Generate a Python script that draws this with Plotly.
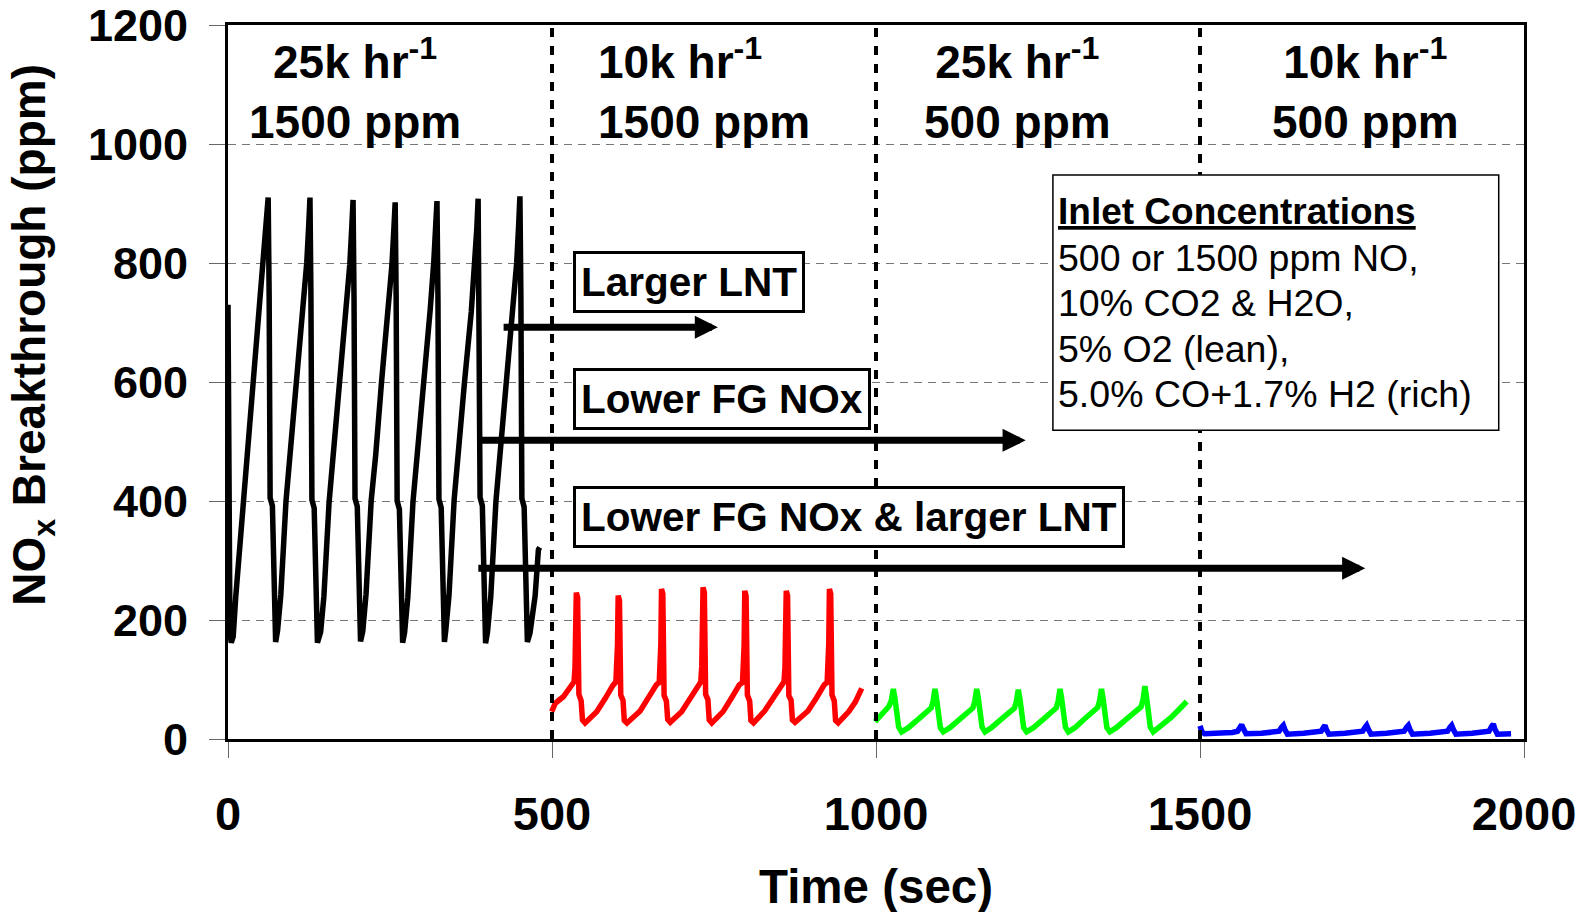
import plotly.graph_objects as go

# ---------------- data ----------------
# 25k hr-1, 1500 ppm (black)
black_t = [0, 1.5, 3, 5, 8, 12, 24, 31, 39, 49.5, 55, 59, 62,
           63.5, 65, 68.5, 71, 73.5, 76.5, 81.5, 89.5, 96.5, 105.5, 116, 121.5, 124.5, 126.5,
           128, 129.5, 133, 135.5, 138, 143, 148, 156, 163, 172, 182.5, 188, 191, 193,
           194.5, 196, 199.5, 202, 204.5, 208, 213, 221, 228, 237, 247.5, 253, 256, 258,
           259.5, 261, 264.5, 267, 269.5, 272.5, 277.5, 285.5, 292.5, 301.5, 312, 317.5, 320.5, 322.5,
           324, 325.5, 329, 331.5, 334, 336, 341, 349, 356, 365, 375.5, 381, 384, 386,
           387.5, 389, 392.5, 395, 397.5, 400.5, 405.5, 413.5, 420.5, 429.5, 440, 445.5, 448.5, 450.5,
           452, 453.5, 457, 459.5, 462, 466, 470, 474, 479, 481]
black_v = [730, 270, 180, 162, 172, 240, 400, 480, 598, 720, 800, 860, 910,
           745, 405, 392, 212, 163, 182, 242, 400, 482, 600, 722, 800, 862, 910,
           742, 402, 388, 208, 162, 180, 240, 398, 480, 598, 718, 798, 860, 906,
           738, 404, 391, 210, 164, 181, 243, 401, 478, 601, 720, 797, 858, 902,
           740, 400, 386, 207, 162, 179, 238, 399, 481, 599, 721, 801, 861, 904,
           741, 403, 389, 211, 163, 182, 241, 402, 479, 600, 719, 799, 859, 908,
           744, 406, 392, 209, 161, 180, 239, 400, 483, 602, 722, 800, 863, 912,
           743, 404, 390, 208, 163, 178, 215, 241, 318, 322]

# 10k hr-1, 1500 ppm (red)
red_t = [499.5, 505, 517.5, 528, 534, 535.5, 536.5, 537.5, 539.5, 541.5, 545, 547, 551,
         569, 582, 590, 594, 598.6, 600.1, 601.1, 602.1, 604.1, 606.1, 609.6, 611.6, 615.6,
         636, 649, 657, 661, 665.5, 667, 668, 669, 671, 673, 676.5, 678.5, 682.5,
         700, 713, 721, 725, 729.6, 731.1, 732.1, 733.1, 735.1, 737.1, 740.6, 742.6, 746.6,
         764, 777, 785, 789, 794, 795.5, 796.5, 797.5, 799.5, 801.5, 805, 807, 811,
         828, 841, 849, 853, 858, 859.5, 860.5, 861.5, 863.5, 865.5, 869, 871, 875,
         895, 908, 916, 920, 924.6, 926.1, 927.1, 928.1, 930.1, 932.1, 935.6, 937.6, 941.6,
         958, 968, 978]
red_v = [46, 60, 71, 86, 96, 120, 160, 246, 238, 75, 64, 32, 27,
         46, 68, 84, 90, 96, 121, 158, 241, 233, 74, 65, 31, 27,
         47, 69, 85, 91, 95, 120, 160, 252, 244, 73, 64, 33, 28,
         46, 68, 83, 90, 96, 122, 162, 255, 246, 75, 66, 32, 27,
         46, 69, 85, 91, 95, 121, 158, 249, 240, 74, 64, 31, 27,
         47, 68, 84, 90, 96, 120, 161, 249, 241, 73, 65, 32, 28,
         47, 69, 85, 91, 95, 122, 160, 252, 244, 74, 64, 31, 27,
         46, 62, 85]

# 25k hr-1, 500 ppm (green)
green_t = [998.5, 1006, 1014, 1020, 1023.5, 1026.7, 1029, 1032, 1035, 1039.5,
           1050, 1065, 1078, 1085, 1088, 1091, 1093.3, 1096.3, 1099.3, 1103.8,
           1114, 1129, 1142, 1149.4, 1152.4, 1155.4, 1157.7, 1160.7, 1163.7, 1168.2,
           1178, 1193, 1206, 1213.6, 1216.6, 1219.6, 1221.9, 1224.9, 1227.9, 1232.4,
           1243, 1258, 1271, 1278, 1281, 1284, 1286.3, 1289.3, 1292.3, 1296.8,
           1307, 1322, 1335, 1342, 1345, 1348, 1350.3, 1353.3, 1356.3, 1360.8,
           1371, 1386, 1399, 1409, 1412, 1415, 1417.3, 1420.3, 1423.3, 1427.8,
           1440, 1455, 1468, 1479.5]
green_v = [29, 38, 47, 55, 64, 84, 70, 42, 20, 12,
           19, 33, 45, 52, 63, 84, 69, 41, 19, 12,
           19, 33, 45, 52, 63, 84, 70, 42, 20, 12,
           19, 33, 45, 52, 63, 83, 69, 41, 19, 12,
           19, 33, 45, 52, 63, 84, 70, 42, 20, 12,
           19, 34, 46, 53, 64, 84, 69, 41, 19, 12,
           19, 33, 46, 54, 66, 89, 72, 43, 20, 12,
           22, 36, 50, 63]

# 10k hr-1, 500 ppm (blue)
blue_t = [1500, 1503, 1507, 1530, 1550, 1558, 1562, 1564.3, 1567, 1571,
          1595, 1615, 1622, 1626, 1628.6, 1631, 1635,
          1660, 1680, 1687, 1691, 1692.9, 1695, 1699,
          1724, 1744, 1751, 1755, 1757.2, 1760, 1764,
          1788, 1808, 1815, 1819, 1821.5, 1824, 1828,
          1855, 1875, 1882, 1886, 1888.4, 1891, 1895,
          1920, 1940, 1946, 1950, 1952.7, 1955, 1959,
          1970, 1980]
blue_v = [22, 12, 9, 9.5, 11, 13, 20, 24, 17, 9,
          9.5, 11, 13, 20, 23, 16, 8,
          9.5, 11, 13, 20, 23, 16, 8,
          9.5, 11, 13, 20, 23, 16, 8,
          9.5, 11, 13, 20, 23, 16, 8,
          9.5, 11, 13, 20, 23, 16, 8,
          9.5, 11, 13, 21, 25, 17, 8,
          8.5, 9]

phase_bounds = [500, 1000, 1500]
y_ticks = [0, 200, 400, 600, 800, 1000, 1200]
x_ticks = [0, 500, 1000, 1500, 2000]

region_t = [196, 568, 1218, 1756]
region_anchor = ["center", "left", "center", "center"]
region_text = ["25k hr<sup>-1</sup><br>1500 ppm", "10k hr<sup>-1</sup><br>1500 ppm",
               "25k hr<sup>-1</sup><br>500 ppm", "10k hr<sup>-1</sup><br>500 ppm"]
region_v = 1092

label_texts = ["Larger LNT", "Lower FG NOx", "Lower FG NOx & larger LNT"]
label_t = 532
label_v = [768, 572, 373]
arrow_tail_t = [423, 389, 384]
arrow_tip_t = [756, 1231, 1755]
arrow_v = [692, 502, 287]

inlet_lines = ["<u>Inlet Concentrations</u>", "500 or 1500 ppm NO,", "10% CO2 & H2O,",
               "5% O2 (lean),", "5.0% CO+1.7% H2 (rich)"]
inlet_v = [886, 808, 733, 655, 580]
inlet_t = 1278
inlet_box = dict(t0=1273, t1=1961, v0=519, v1=948)

FONT = "Liberation Sans"

fig = go.Figure()
for t, v, c in [(black_t, black_v, "#000000"), (red_t, red_v, "#FF0000"),
                (green_t, green_v, "#00FF00"), (blue_t, blue_v, "#0000FF")]:
    fig.add_trace(go.Scatter(x=t, y=v, mode="lines", line=dict(color=c, width=5.5),
                             showlegend=False, hoverinfo="skip"))

for b in phase_bounds:
    fig.add_shape(type="line", xref="x", yref="paper", x0=b, x1=b, y0=0, y1=1,
                  line=dict(color="black", width=4, dash="9px,9px"), layer="above")

fig.add_shape(type="rect", xref="x", yref="y", x0=inlet_box["t0"], x1=inlet_box["t1"],
              y0=inlet_box["v0"], y1=inlet_box["v1"], fillcolor="white",
              line=dict(color="black", width=1.5), layer="above")

ann = []
for t, a, txt in zip(region_t, region_anchor, region_text):
    ann.append(dict(x=t, y=region_v, xref="x", yref="y", text=txt, showarrow=False,
                    xanchor=a, yanchor="middle", align=a,
                    font=dict(family=FONT, size=46, color="black", weight="bold")))
for txt, v in zip(label_texts, label_v):
    ann.append(dict(x=label_t, y=v, xref="x", yref="y", text=txt, showarrow=False,
                    xanchor="left", yanchor="middle", bgcolor="white", bordercolor="black",
                    borderwidth=3, borderpad=5,
                    font=dict(family=FONT, size=40.5, color="black", weight="bold")))
for t0, t1, v in zip(arrow_tail_t, arrow_tip_t, arrow_v):
    ann.append(dict(x=t1, y=v, ax=t0, ay=v, xref="x", yref="y", axref="x", ayref="y",
                    text="", showarrow=True, arrowhead=2, arrowsize=0.66, arrowwidth=7,
                    arrowcolor="black", standoff=0))
for i, (txt, v) in enumerate(zip(inlet_lines, inlet_v)):
    ann.append(dict(x=inlet_t, y=v, xref="x", yref="y", text=txt, showarrow=False,
                    xanchor="left", yanchor="middle",
                    font=dict(family=FONT, size=37 if i == 0 else 37.5, color="black",
                              weight="bold" if i == 0 else "normal")))
ann.append(dict(x=-0.1505, y=0.566, xref="paper", yref="paper",
                text="NO<sub>x</sub> Breakthrough (ppm)", textangle=-90, showarrow=False,
                xanchor="center", yanchor="middle",
                font=dict(family=FONT, size=46, color="black", weight="bold")))
ann.append(dict(x=0.5, y=-0.206, xref="paper", yref="paper", text="Time (sec)",
                showarrow=False, xanchor="center", yanchor="middle",
                font=dict(family=FONT, size=47.5, color="black", weight="bold")))

fig.update_layout(
    width=1585, height=912,
    margin=dict(l=228, r=61, t=25, b=173, autoexpand=False),
    paper_bgcolor="white", plot_bgcolor="white",
    showlegend=False,
    annotations=ann,
    xaxis=dict(range=[0, 2000], tickvals=x_ticks, showgrid=False, zeroline=False,
               automargin=False, ticklabeloverflow="allow",
               showline=True, linecolor="black", linewidth=3, mirror=True,
               ticks="outside", ticklen=16, tickwidth=1, tickcolor="#666666",
               ticklabelstandoff=16,
               tickfont=dict(family=FONT, size=47, color="black", weight="bold")),
    yaxis=dict(range=[0, 1200], tickvals=y_ticks, showgrid=True, gridcolor="#777777",
               gridwidth=1, griddash="8px,6px", zeroline=False,
               automargin=False, ticklabeloverflow="allow",
               showline=True, linecolor="black", linewidth=3, mirror=True,
               ticks="outside", ticklen=16, tickwidth=1, tickcolor="#666666",
               ticklabelstandoff=12,
               tickfont=dict(family=FONT, size=45, color="black", weight="bold")),
)

fig.write_html("out.html")
